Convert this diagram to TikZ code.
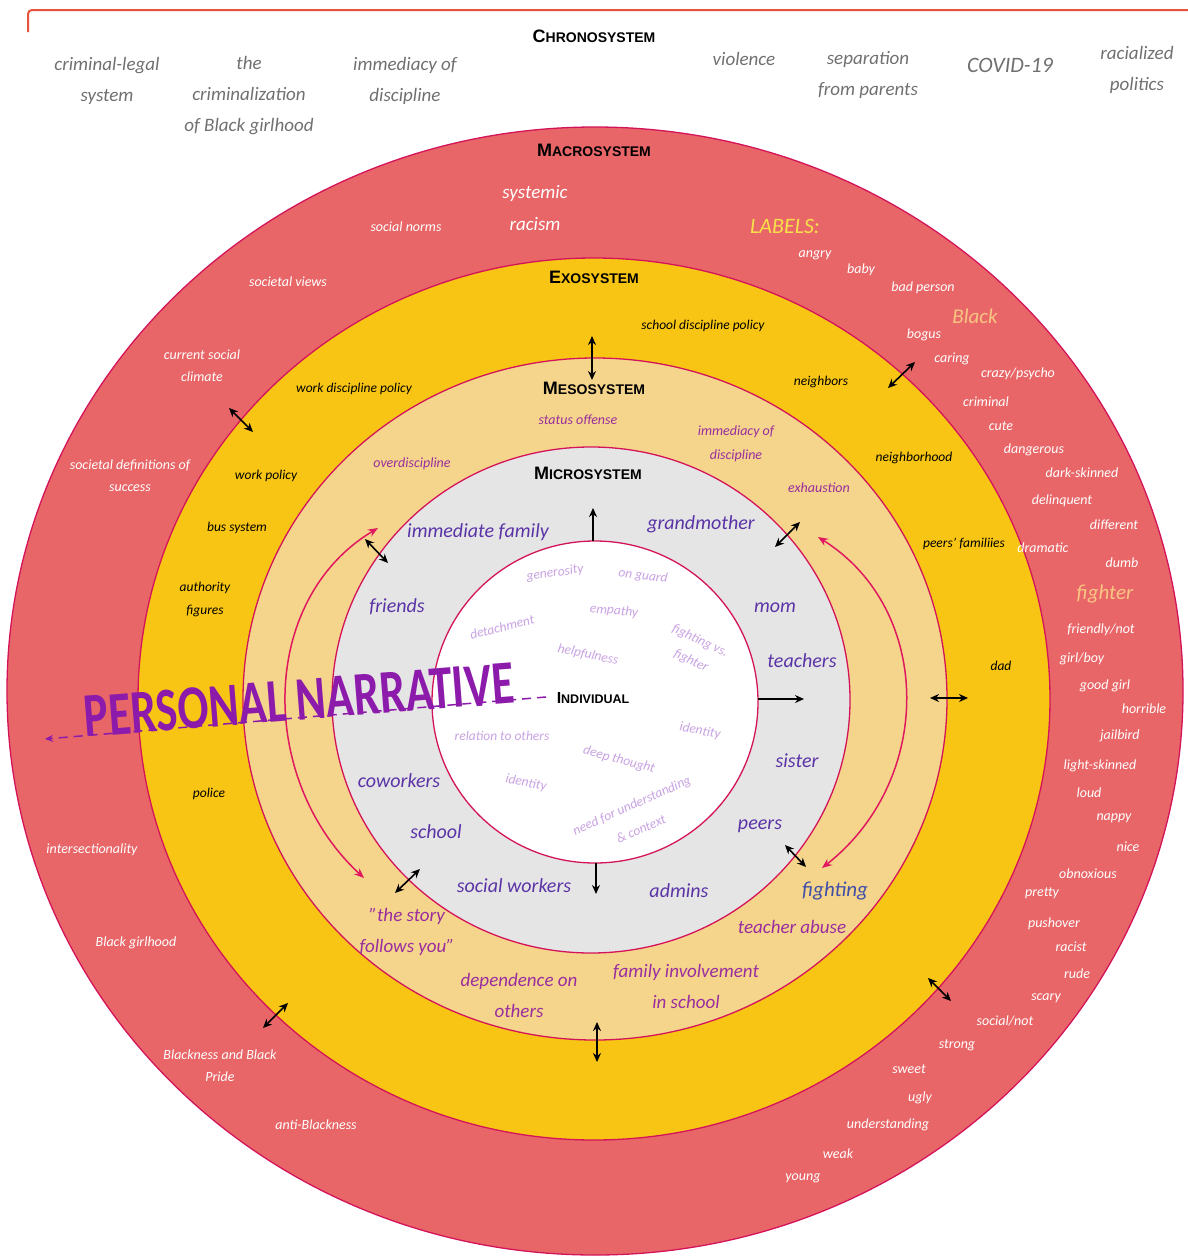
\documentclass[tikz,border=0pt]{standalone}
\usepackage{fontspec}
\setmainfont{Carlito}
\newfontfamily\titlefont{Liberation Sans}
\usetikzlibrary{arrows.meta}
\definecolor{macroC}{HTML}{E86668}
\definecolor{exoC}{HTML}{F8C514}
\definecolor{mesoC}{HTML}{F5D48C}
\definecolor{microC}{HTML}{E6E5E6}
\definecolor{ringC}{HTML}{D4145A}
\definecolor{frameC}{HTML}{E5533D}
\definecolor{chronoC}{HTML}{707070}
\definecolor{labYel}{HTML}{F8E04A}
\definecolor{labOr}{HTML}{F9C583}
\definecolor{mesoT}{HTML}{9A2E9E}
\definecolor{microT}{HTML}{5A34A6}
\definecolor{fightC}{HTML}{4050A8}
\definecolor{indivT}{HTML}{C9A3E3}
\definecolor{pinkA}{HTML}{E0195F}
\definecolor{narrC}{HTML}{8C1AAA}
\newcommand\fs[2]{\fontsize{#1}{#2}\selectfont}
\newcommand\sysT[2]{{\titlefont\bfseries\fs{18}{18}#1\fs{14}{14}#2}}
\tikzset{
  ring/.style={draw=ringC, line width=1.3pt},
  chrono/.style={text=chronoC, font=\fs{19}{31}\itshape, align=center, inner sep=0pt},
  systitle/.style={text=black, inner sep=0pt},
  macroT/.style={text=white, font=\fs{14}{22}\itshape, align=center, inner sep=0pt},
  labw/.style={text=white, font=\fs{14}{16}\itshape, inner sep=0pt},
  exoT/.style={text=black, font=\fs{13.5}{23}\itshape, align=center, inner sep=0pt},
  mesoS/.style={text=mesoT, font=\fs{14}{24}\itshape, align=center, inner sep=0pt},
  mesoL/.style={text=mesoT, font=\fs{19}{31}\itshape, align=center, inner sep=0pt},
  microS/.style={text=microT, font=\fs{20}{24}\itshape, inner sep=0pt},
  indivS/.style={text=indivT, font=\fs{13.5}{16}\itshape, align=center, inner sep=0pt},
  dbl/.style={{Stealth[length=9pt,width=8pt]}-{Stealth[length=9pt,width=8pt]}, line width=1.6pt, black},
  sgl/.style={-{Stealth[length=9pt,width=8pt]}, line width=1.6pt, black},
  pinkarr/.style={{Stealth[length=10pt,width=8pt]}-{Stealth[length=10pt,width=8pt]}, line width=1.5pt, pinkA},
}
\begin{document}
\begin{tikzpicture}[x=1pt,y=-1pt]
\useasboundingbox (0,0) rectangle (1188,1256);
% chronosystem frame
\coordinate (fr1) at (28,32);
\coordinate (fr2) at (28,10);
\coordinate (fr3) at (1188,10);
\draw[frameC, line width=2pt, rounded corners=4pt] (fr1) -- (fr2) -- (fr3);
% rings
\draw[ring, fill=macroC] (595,691) ellipse [x radius=588pt, y radius=564pt];
\draw[ring, fill=exoC] (594,699) ellipse [x radius=456pt, y radius=441pt];
\draw[ring, fill=mesoC] (595,699) ellipse [x radius=352pt, y radius=341pt];
\draw[ring, fill=microC] (591,700) ellipse [x radius=259pt, y radius=253pt];
\draw[ring, fill=white] (595,702) ellipse [x radius=163pt, y radius=161pt];

% titles
\node[systitle] (tchrono) at (594,36) {\sysT{C}{HRONOSYSTEM}};
\node[systitle] (tmacro) at (594,150) {\sysT{M}{ACROSYSTEM}};
\node[systitle] (texo) at (594,277) {\sysT{E}{XOSYSTEM}};
\node[systitle] (tmeso) at (594,388) {\sysT{M}{ESOSYSTEM}};
\node[systitle] (tmicro) at (588,473) {\sysT{M}{ICROSYSTEM}};
\node[systitle] (tindiv) at (593,698) {{\titlefont\bfseries\fs{16}{16}I\fs{12.5}{12.5}NDIVIDUAL}};

% chronosystem items
\node[chrono] (c1) at (107,81) {criminal-legal\\system};
\node[chrono] (c2) at (249,96) {the\\criminalization\\of Black girlhood};
\node[chrono] (c3) at (405,81) {immediacy of\\discipline};
\node[chrono] (c4) at (744,59) {violence};
\node[chrono] (c5) at (868,75) {separation\\from parents};
\node[chrono, font=\fs{22}{26}\itshape] (c6) at (1010,65) {COVID-19};
\node[chrono] (c7) at (1137,70) {racialized\\politics};

% macrosystem items
\node[macroT, font=\fs{19}{32}\itshape] (m1) at (535,208) {systemic\\racism};
\node[macroT] (m2) at (406,227) {social norms};
\node[macroT] (m3) at (288,282) {societal views};
\node[macroT] (m4) at (202,366) {current social\\climate};
\node[macroT] (m5) at (130,476) {societal definitions of\\success};
\node[macroT] (m6) at (92,850) {intersectionality};
\node[macroT] (m7) at (136,943) {Black girlhood};
\node[macroT] (m8) at (220,1066) {Blackness and Black\\Pride};
\node[macroT] (m9) at (316,1125) {anti-Blackness};

% labels
\node[text=labYel, font=\fs{22}{24}\itshape, inner sep=0pt] (labT) at (785,226) {LABELS:};
\node[labw] (l1) at (815,255) {angry};
\node[labw] (l2) at (861,270) {baby};
\node[labw] (l3) at (923,288) {bad person};
\node[text=labOr, font=\fs{21}{24}\itshape, inner sep=0pt] (l4) at (975,316) {Black};
\node[labw] (l5) at (924,335) {bogus};
\node[labw] (l6) at (952,359) {caring};
\node[labw] (l7) at (1018,374) {crazy/psycho};
\node[labw] (l8) at (986,402) {criminal};
\node[labw] (l9) at (1001,426) {cute};
\node[labw] (l10) at (1034,450) {dangerous};
\node[labw] (l11) at (1082,473) {dark-skinned};
\node[labw] (l12) at (1062,501) {delinquent};
\node[labw] (l13) at (1114,525) {different};
\node[labw] (l14) at (1043,548) {dramatic};
\node[labw] (l15) at (1122,563) {dumb};
\node[text=labOr, font=\fs{21}{24}\itshape, inner sep=0pt] (l16) at (1105,594) {fighter};
\node[labw] (l17) at (1101,630) {friendly/not};
\node[labw] (l18) at (1082,659) {girl/boy};
\node[labw] (l19) at (1105,686) {good girl};
\node[labw] (l20) at (1144,709) {horrible};
\node[labw] (l21) at (1120,736) {jailbird};
\node[labw] (l22) at (1100,766) {light-skinned};
\node[labw] (l23) at (1089,793) {loud};
\node[labw] (l24) at (1114,818) {nappy};
\node[labw] (l25) at (1128,847) {nice};
\node[labw] (l26) at (1088,874) {obnoxious};
\node[labw] (l27) at (1042,893) {pretty};
\node[labw] (l28) at (1054,924) {pushover};
\node[labw] (l29) at (1071,947) {racist};
\node[labw] (l30) at (1077,974) {rude};
\node[labw] (l31) at (1046,998) {scary};
\node[labw] (l32) at (1005,1021) {social/not};
\node[labw] (l33) at (957,1045) {strong};
\node[labw] (l34) at (909,1069) {sweet};
\node[labw] (l35) at (920,1098) {ugly};
\node[labw] (l36) at (888,1125) {understanding};
\node[labw] (l37) at (838,1154) {weak};
\node[labw] (l38) at (803,1178) {young};

% exosystem items
\node[exoT] (e1) at (703,326) {school discipline policy};
\node[exoT] (e2) at (354,389) {work discipline policy};
\node[exoT] (e3) at (821,382) {neighbors};
\node[exoT] (e4) at (266,476) {work policy};
\node[exoT] (e5) at (914,458) {neighborhood};
\node[exoT] (e6) at (237,528) {bus system};
\node[exoT] (e7) at (964,544) {peers' familiies};
\node[exoT] (e8) at (205,599) {authority\\figures};
\node[exoT] (e9) at (1001,666) {dad};
\node[exoT] (e10) at (209,794) {police};

% mesosystem items
\node[mesoS] (s1) at (578,420) {status offense};
\node[mesoS] (s2) at (736,444) {immediacy of\\discipline};
\node[mesoS] (s3) at (412,464) {overdiscipline};
\node[mesoS] (s4) at (819,488) {exhaustion};
\node[mesoL] (s5) at (407,932) {"the story\\follows you"};
\node[mesoL] (s6) at (519,995) {dependence on\\others};
\node[mesoL] (s7) at (686,986) {family involvement\\in school};
\node[mesoL] (s8) at (792,927) {teacher abuse};
\node[text=fightC, font=\fs{21}{24}\itshape, inner sep=0pt] (s9) at (835,891) {fighting};

% microsystem items
\node[microS] (r1) at (478,532) {immediate family};
\node[microS] (r2) at (701,524) {grandmother};
\node[microS] (r3) at (397,607) {friends};
\node[microS] (r4) at (775,608) {mom};
\node[microS] (r5) at (802,661) {teachers};
\node[microS] (r6) at (797,761) {sister};
\node[microS] (r7) at (399,781) {coworkers};
\node[microS] (r8) at (436,832) {school};
\node[microS] (r9) at (760,826) {peers};
\node[microS] (r10) at (514,886) {social workers};
\node[microS] (r11) at (679,891) {admins};

% individual items
\node[indivS, rotate=8] (i1) at (555,573) {generosity};
\node[indivS, rotate=-8] (i2) at (643,576) {on guard};
\node[indivS, rotate=14] (i3) at (502,627) {detachment};
\node[indivS, rotate=-5] (i4) at (614,611) {empathy};
\node[indivS, rotate=-25] (i5a) at (700,641) {fighting vs.};
\node[indivS, rotate=-25] (i5b) at (691,661) {fighter};
\node[indivS, rotate=-12] (i6) at (588,655) {helpfulness};
\node[indivS] (i7) at (502,736) {relation to others};
\node[indivS, rotate=-10] (i8) at (700,731) {identity};
\node[indivS, rotate=-15] (i9) at (619,760) {deep thought};
\node[indivS, rotate=-10] (i10) at (526,783) {identity};
\node[indivS, rotate=24] (i11a) at (632,806) {need for understanding};
\node[indivS, rotate=24] (i11b) at (641,829) {\& context};

% black connectors
\coordinate (a1a) at (229,408); \coordinate (a1b) at (253,432);
\draw[dbl] (a1a) -- (a1b);
\coordinate (a2a) at (592,336); \coordinate (a2b) at (592,380);
\draw[dbl] (a2a) -- (a2b);
\coordinate (a3a) at (888,388); \coordinate (a3b) at (915,362);
\draw[dbl] (a3a) -- (a3b);
\coordinate (a4a) at (365,539); \coordinate (a4b) at (388,563);
\draw[dbl] (a4a) -- (a4b);
\coordinate (a5a) at (775,547); \coordinate (a5b) at (800,522);
\draw[dbl] (a5a) -- (a5b);
\coordinate (a6a) at (930,698); \coordinate (a6b) at (968,698);
\draw[dbl] (a6a) -- (a6b);
\coordinate (a7a) at (785,845); \coordinate (a7b) at (806,867);
\draw[dbl] (a7a) -- (a7b);
\coordinate (a8a) at (395,893); \coordinate (a8b) at (420,869);
\draw[dbl] (a8a) -- (a8b);
\coordinate (a9a) at (597,1022); \coordinate (a9b) at (597,1062);
\draw[dbl] (a9a) -- (a9b);
\coordinate (a10a) at (263,1028); \coordinate (a10b) at (288,1003);
\draw[dbl] (a10a) -- (a10b);
\coordinate (a11a) at (928,978); \coordinate (a11b) at (951,1001);
\draw[dbl] (a11a) -- (a11b);
\coordinate (u1a) at (593,541); \coordinate (u1b) at (593,508);
\draw[sgl] (u1a) -- (u1b);
\coordinate (u2a) at (596,863); \coordinate (u2b) at (596,894);
\draw[sgl] (u2a) -- (u2b);
\coordinate (u3a) at (758,699); \coordinate (u3b) at (804,699);
\draw[sgl] (u3a) -- (u3b);

% pink curved arrows
\coordinate (p1a) at (364,878); \coordinate (p1b) at (378,528);
\draw[pinkarr] (p1a) .. controls (258,780) and (258,600) .. (p1b);
\coordinate (p2a) at (822,868); \coordinate (p2b) at (818,537);
\draw[pinkarr] (p2a) .. controls (934,780) and (934,610) .. (p2b);

% personal narrative
\coordinate (nEnd) at (45,739);
\coordinate (nStart) at (546,697);
\draw[narrC, line width=1.5pt, dash pattern=on 9pt off 6pt, -{Stealth[length=8pt,width=7pt]}] (nStart) -- (nEnd);
\node[text=narrC, inner sep=0pt, rotate=4.5] (narr) at (299,700)
  {\scalebox{0.74}[1]{\fs{62}{62}\bfseries PERSONAL NARRATIVE}};
\end{tikzpicture}
\end{document}
